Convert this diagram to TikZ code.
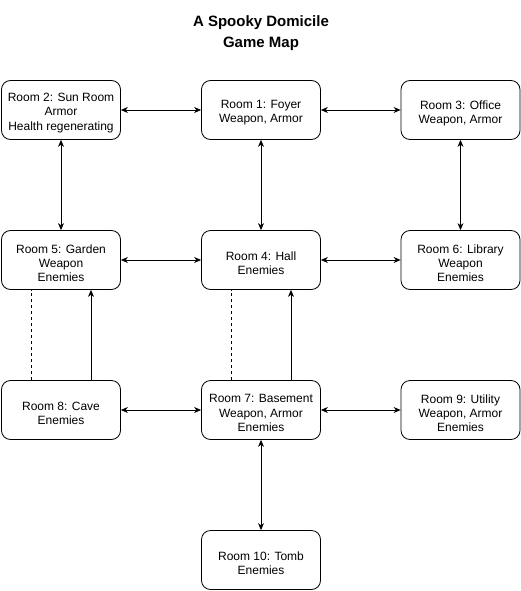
\documentclass[tikz,border=0pt]{standalone}
\usepackage{fontspec}
\setmainfont{Liberation Sans}
\usetikzlibrary{arrows.meta}
\newcommand{\myroom}[3]{%
  \node[room] (#1) at (#2) {};
  \node[roomtext] (#1-t) at ([yshift=-3pt]#1.center) {#3};}
\begin{document}
\begin{tikzpicture}[x=1pt,y=-1pt,
  room/.style={draw, line width=0.8pt, rounded corners=9pt, minimum width=119pt, minimum height=59pt,
    inner sep=0pt},
  roomtext/.style={align=center, inner sep=0pt, font=\fontsize{12}{14.2}\selectfont},
  link/.style={line width=0.8pt, {Stealth[length=7pt,width=6pt]}-{Stealth[length=7pt,width=6pt]}},
  oneway/.style={line width=0.8pt, -{Stealth[length=7pt,width=6pt]}},
  dashline/.style={line width=0.8pt, dash pattern=on 3pt off 3pt}]
\useasboundingbox (0,0) rectangle (521,591);
\node[font=\bfseries\fontsize{15}{20.5}\selectfont, align=center] (title) at (261,33) {A Spooky Domicile\\Game Map};
\myroom{r2}{61,110}{Room 2: Sun Room\\Armor\\Health regenerating}
\myroom{r1}{261,110}{Room 1: Foyer\\Weapon, Armor}
\myroom{r3}{460.5,110}{Room 3: Office\\Weapon, Armor}
\myroom{r5}{61,260}{Room 5: Garden\\Weapon\\Enemies}
\myroom{r4}{261,260}{Room 4: Hall\\Enemies}
\myroom{r6}{460.5,260}{Room 6: Library\\Weapon\\Enemies}
\myroom{r8}{61,410}{Room 8: Cave\\Enemies}
\myroom{r7}{261,410}{Room 7: Basement\\Weapon, Armor\\Enemies}
\myroom{r9}{460.5,410}{Room 9: Utility\\Weapon, Armor\\Enemies}
\myroom{r10}{261,560}{Room 10: Tomb\\Enemies}
% horizontal
\draw[link] (r2) -- (r1);
\draw[link] (r1) -- (r3);
\draw[link] (r5) -- (r4);
\draw[link] (r4) -- (r6);
\draw[link] (r8) -- (r7);
\draw[link] (r7) -- (r9);
% vertical
\draw[link] (r2) -- (r5);
\draw[link] (r1) -- (r4);
\draw[link] (r3) -- (r6);
\draw[link] (r7) -- (r10);
% one-way and dashed
\draw[dashline] ([xshift=-30pt]r8.north) -- ([xshift=-30pt]r5.south);
\draw[oneway] ([xshift=30pt]r8.north) -- ([xshift=30pt]r5.south);
\draw[dashline] ([xshift=-30pt]r7.north) -- ([xshift=-30pt]r4.south);
\draw[oneway] ([xshift=30pt]r7.north) -- ([xshift=30pt]r4.south);
\end{tikzpicture}
\end{document}
